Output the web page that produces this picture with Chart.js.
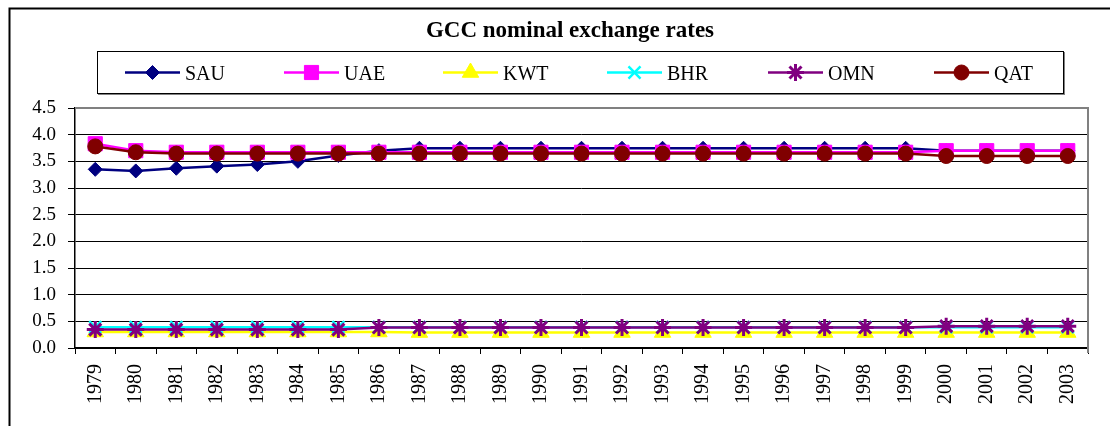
<!DOCTYPE html>
<html><head><meta charset="utf-8">
<script src="https://cdn.jsdelivr.net/npm/chart.js@4.4.0/dist/chart.umd.min.js"></script>
<style>html,body{margin:0;padding:0;background:#fff;overflow:hidden}</style>
</head><body>
<canvas id="c" width="1110" height="426"></canvas>
<script>
const chartTitle = 'GCC nominal exchange rates';
const years = ['1979','1980','1981','1982','1983','1984','1985','1986','1987','1988','1989','1990','1991','1992','1993','1994','1995','1996','1997','1998','1999','2000','2001','2002','2003'];
const SAU = [3.35,3.32,3.37,3.41,3.44,3.50,3.61,3.70,3.745,3.745,3.745,3.745,3.745,3.745,3.745,3.745,3.745,3.745,3.745,3.745,3.745,3.70,3.70,3.70,3.70];
const UAE = [3.83,3.70,3.67,3.67,3.67,3.67,3.67,3.67,3.67,3.67,3.67,3.67,3.67,3.67,3.67,3.67,3.67,3.67,3.67,3.67,3.67,3.70,3.70,3.70,3.70];
const KWT = [0.30,0.30,0.30,0.30,0.30,0.30,0.30,0.30,0.29,0.29,0.29,0.29,0.29,0.29,0.29,0.29,0.29,0.29,0.29,0.29,0.29,0.29,0.29,0.29,0.29];
const BHR = [0.39,0.39,0.39,0.39,0.39,0.39,0.39,0.39,0.39,0.39,0.39,0.39,0.39,0.39,0.39,0.39,0.39,0.39,0.39,0.39,0.39,0.39,0.39,0.39,0.39];
const OMN = [0.345,0.345,0.345,0.345,0.345,0.345,0.345,0.385,0.385,0.385,0.385,0.385,0.385,0.385,0.385,0.385,0.385,0.385,0.385,0.385,0.385,0.41,0.41,0.41,0.41];
const QAT = [3.78,3.67,3.645,3.645,3.645,3.645,3.645,3.645,3.645,3.645,3.645,3.645,3.645,3.645,3.645,3.645,3.645,3.645,3.645,3.645,3.645,3.60,3.60,3.60,3.60];
const seriesNames = ['SAU','UAE','KWT','BHR','OMN','QAT'];

const FONT = 'Liberation Serif';

function ds(label, data, color, style, radius, pbw, order) {
  return {label, data, borderColor: color, backgroundColor: color,
    pointBackgroundColor: color, pointBorderColor: color,
    pointStyle: style, pointRadius: radius, pointHoverRadius: radius,
    pointBorderWidth: pbw,
    borderWidth: 2.5, tension: 0, order};
}

const legendX = [125, 284, 443, 607, 768, 934];

const decor = {
  id: 'decor',
  beforeDraw(chart) {
    const ctx = chart.ctx;
    ctx.save();
    ctx.fillStyle = '#fff';
    ctx.fillRect(0,0,chart.width,chart.height);
    ctx.strokeStyle = '#000'; ctx.lineWidth = 2;
    ctx.strokeRect(9.5, 8.5, 1400, 1000);
    ctx.restore();
  },
  beforeDatasetsDraw(chart) {
    const ctx = chart.ctx, a = chart.chartArea;
    ctx.save();
    ctx.strokeStyle = '#808080'; ctx.lineWidth = 2;
    ctx.beginPath();
    ctx.moveTo(a.left, a.top); ctx.lineTo(a.right, a.top); ctx.lineTo(a.right, a.bottom+5);
    ctx.stroke();
    ctx.restore();
  },
  afterDraw(chart) {
    const ctx = chart.ctx;
    ctx.save();
    ctx.fillStyle = '#000';
    ctx.font = 'bold 23px "' + FONT + '"';
    ctx.textAlign = 'center'; ctx.textBaseline = 'alphabetic';
    ctx.fillText(chartTitle, 570, 37);
    ctx.strokeStyle = '#808080'; ctx.lineWidth = 2;
    ctx.beginPath(); ctx.moveTo(98, 94); ctx.lineTo(1064, 94); ctx.lineTo(1064, 52); ctx.stroke();
    ctx.strokeStyle = '#000'; ctx.lineWidth = 1;
    ctx.strokeRect(97.5, 51.5, 966, 42);
    const ly = 72.5;
    chart.data.datasets.forEach((d, i) => {
      const x0 = legendX[i];
      ctx.strokeStyle = d.borderColor; ctx.lineWidth = 2.5;
      ctx.beginPath(); ctx.moveTo(x0, ly); ctx.lineTo(x0+55, ly); ctx.stroke();
      ctx.fillStyle = d.pointBackgroundColor; ctx.strokeStyle = d.pointBorderColor;
      ctx.lineWidth = d.pointBorderWidth;
      Chart.helpers.drawPoint(ctx, {pointStyle: d.pointStyle, radius: d.pointRadius, rotation: 0, borderWidth: d.pointBorderWidth}, x0+27.5, ly);
      ctx.fillStyle = '#000';
      ctx.font = '20px "' + FONT + '"';
      ctx.textAlign = 'left'; ctx.textBaseline = 'alphabetic';
      ctx.fillText(d.label, x0+60, ly+7);
    });
    ctx.restore();
  }
};

new Chart(document.getElementById('c'), {
  type: 'line',
  data: {
    labels: years,
    datasets: [
      ds(seriesNames[0], SAU, '#000080', 'rectRot', 7, 1, 6),
      ds(seriesNames[1], UAE, '#FF00FF', 'rect', 10, 1, 5),
      ds(seriesNames[2], KWT, '#FFFF00', 'triangle', 9.5, 1, 4),
      ds(seriesNames[3], BHR, '#00FFFF', 'crossRot', 8.5, 2.5, 3),
      ds(seriesNames[4], OMN, '#800080', 'star', 8.5, 3, 2),
      ds(seriesNames[5], QAT, '#800000', 'circle', 7.5, 1, 1)
    ]
  },
  options: {
    responsive: false, animation: false, devicePixelRatio: 1,
    layout: {padding: {top: 108, left: 0, right: 22, bottom: 0}},
    plugins: {legend: {display: false}, title: {display: false}, tooltip: {enabled: false}},
    scales: {
      x: {
        offset: true,
        grid: {drawOnChartArea: false, drawTicks: true, tickLength: 6, color: '#000', lineWidth: 1, offset: true},
        border: {color: '#000', width: 1.5},
        ticks: {minRotation: 90, maxRotation: 90, autoSkip: false, color: '#000', padding: 10,
                font: {family: FONT, size: 20}},
        afterFit(s) { s.height = 78; }
      },
      y: {
        min: 0, max: 4.5,
        grid: {color: '#000', lineWidth: 1, tickLength: 7},
        border: {color: '#000', width: 1.5},
        ticks: {stepSize: 0.5, autoSkip: false, color: '#000', padding: 12, font: {family: FONT, size: 19},
                callback: v => Number(v).toFixed(1)},
        afterFit(s) { s.width = 75; }
      }
    }
  },
  plugins: [decor]
});
</script>
</body></html>
